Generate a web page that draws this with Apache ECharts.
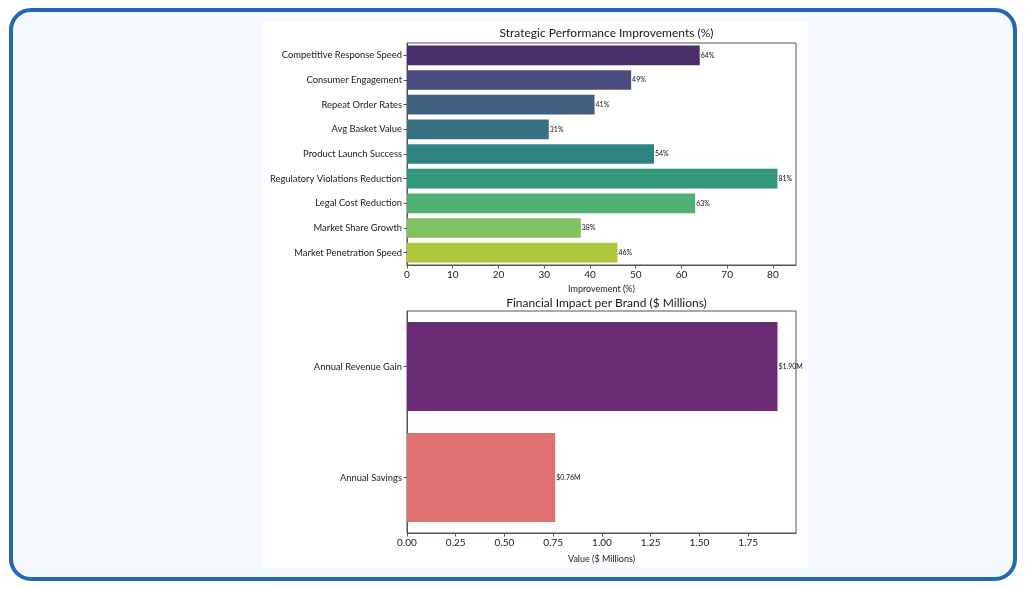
<!DOCTYPE html>
<html>
<head>
<meta charset="utf-8">
<script src="https://cdn.jsdelivr.net/npm/echarts@6/dist/echarts.min.js"></script>
<style>
  html, body { margin: 0; padding: 0; background: #ffffff; }
  #frame {
    position: absolute; left: 9px; top: 8px; width: 1000px; height: 565px;
    border: 4px solid #2468b0; border-radius: 22px; background: #f5f8fc;
  }
  #chart {
    position: absolute; left: 263px; top: 22px; width: 545px; height: 546px;
    background: #ffffff;
  }
</style>
</head>
<body>
<div id="frame"></div>
<div id="chart"></div>
<script>
// top panel
const metrics = [
  "Competitive Response Speed",
  "Consumer Engagement",
  "Repeat Order Rates",
  "Avg Basket Value",
  "Product Launch Success",
  "Regulatory Violations Reduction",
  "Legal Cost Reduction",
  "Market Share Growth",
  "Market Penetration Speed"
];
const improvements = [64, 49, 41, 31, 54, 81, 63, 38, 46];
const metricColors = [
  "#492e6b", "#4a4c7e", "#406082", "#377182", "#2f837f",
  "#33977c", "#53b074", "#80c161", "#aec83d"
];
const pctTicks = [0, 10, 20, 30, 40, 50, 60, 70, 80];

// bottom panel
const impactItems = ["Annual Revenue Gain", "Annual Savings"];
const impactValues = [1.90, 0.76];
const impactColors = ["#6a2b75", "#df7270"];
const moneyTicks = [0, 0.25, 0.5, 0.75, 1.0, 1.25, 1.5, 1.75];

const FONT = "Lato";
const TXT = "#1a1a1a";
const SPINE = "#555555";

let myChart = echarts.init(document.getElementById("chart"));

function xAxisCommon(ticks, fmt) {
  return {
    type: "value",
    nameLocation: "middle",
    nameTextStyle: { fontFamily: FONT, fontSize: 9, color: TXT },
    axisLine: { show: true, lineStyle: { color: SPINE, width: 1 } },
    axisTick: { show: true, length: 3.5, customValues: ticks, lineStyle: { color: SPINE } },
    axisLabel: {
      customValues: ticks, margin: 5,
      fontFamily: FONT, fontSize: 10, color: TXT,
      formatter: fmt
    },
    splitLine: { show: false }
  };
}

function yAxisCommon(data, idx) {
  return {
    type: "category",
    gridIndex: idx,
    data: data,
    inverse: true,
    axisLine: { show: true, lineStyle: { color: SPINE, width: 1 } },
    axisTick: { show: true, alignWithLabel: true, length: 3.5, lineStyle: { color: SPINE } },
    axisLabel: { fontFamily: FONT, fontSize: 9.4, color: TXT, margin: 5 },
    splitLine: { show: false }
  };
}

let xTop = xAxisCommon(pctTicks, v => String(v));
xTop.gridIndex = 0; xTop.min = 0; xTop.max = 85.05;
xTop.name = "Improvement (%)"; xTop.nameGap = 20;

let xBot = xAxisCommon(moneyTicks, v => v.toFixed(2));
xBot.gridIndex = 1; xBot.min = 0; xBot.max = 1.995;
xBot.name = "Value ($ Millions)"; xBot.nameGap = 22;

let option = {
  animation: false,
  title: [
    {
      text: "Strategic Performance Improvements (%)",
      left: 338.5, top: 0, textAlign: "center",
      textStyle: { fontFamily: FONT, fontSize: 12, fontWeight: "normal", color: TXT }
    },
    {
      text: "Financial Impact per Brand ($ Millions)",
      left: 338.5, top: 270, textAlign: "center",
      textStyle: { fontFamily: FONT, fontSize: 12, fontWeight: "normal", color: TXT }
    }
  ],
  grid: [
    { left: 144, top: 21, width: 389, height: 222, outerBoundsMode: "none", show: true, borderColor: SPINE, borderWidth: 1, backgroundColor: "transparent" },
    { left: 144, top: 289, width: 389, height: 222, outerBoundsMode: "none", show: true, borderColor: SPINE, borderWidth: 1, backgroundColor: "transparent" }
  ],
  xAxis: [xTop, xBot],
  yAxis: [yAxisCommon(metrics, 0), yAxisCommon(impactItems, 1)],
  series: [
    {
      name: "Improvement",
      type: "bar",
      xAxisIndex: 0,
      yAxisIndex: 0,
      barCategoryGap: "20%",
      data: improvements.map((v, i) => ({ value: v, itemStyle: { color: metricColors[i] } })),
      label: {
        show: true, position: "right", distance: 1,
        fontFamily: FONT, fontSize: 7, color: "#111",
        formatter: p => p.value + "%"
      }
    },
    {
      name: "Impact",
      type: "bar",
      xAxisIndex: 1,
      yAxisIndex: 1,
      barCategoryGap: "20%",
      data: impactValues.map((v, i) => ({ value: v, itemStyle: { color: impactColors[i] } })),
      label: {
        show: true, position: "right", distance: 1,
        fontFamily: FONT, fontSize: 7, color: "#111",
        formatter: p => "$" + p.value.toFixed(2) + "M"
      }
    }
  ]
};
myChart.setOption(option, true);
</script>
</body>
</html>
